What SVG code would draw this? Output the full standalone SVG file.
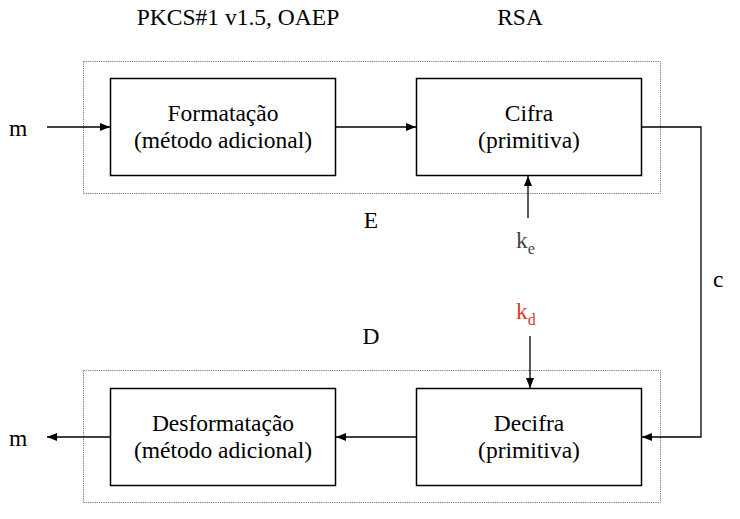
<svg xmlns="http://www.w3.org/2000/svg" width="740" height="519" viewBox="0 0 740 519">
<style>
text{font-family:'Liberation Serif','Times New Roman',Tinos,'DejaVu Serif',serif;font-size:23.5px;fill:#000}
.c{text-anchor:middle}
.box{fill:#fff;stroke:#000;stroke-width:1.5}
.dot{fill:none;stroke:#777;stroke-width:1;stroke-dasharray:1.2,1}
.ln{fill:none;stroke:#000;stroke-width:1.3}
</style>
<defs>
<marker id="ah" viewBox="0 0 10 8" refX="10" refY="4" markerWidth="10" markerHeight="8" markerUnits="userSpaceOnUse" orient="auto">
<path d="M0,0 L10,4 L0,8 Z" fill="#000"/>
</marker>
</defs>
<rect width="740" height="519" fill="#fff"/>
<g font-family="'Liberation Serif','Times New Roman',Tinos,'DejaVu Serif',serif">
<text class="c" x="238" y="25">PKCS#1 v1.5, OAEP</text>
<text class="c" x="520" y="25">RSA</text>
<g id="E-group">
<rect class="dot" x="83.5" y="61.5" width="577" height="132"/>
<text class="c" x="371" y="228">E</text>
</g>
<g id="D-group">
<rect class="dot" x="83.5" y="370.5" width="577" height="132"/>
<text class="c" x="371" y="344">D</text>
</g>
<g id="formatacao">
<rect class="box" x="110.5" y="78.5" width="225" height="97"/>
<text class="c" x="223" y="121">Formatação</text>
<text class="c" x="223" y="148">(método adicional)</text>
</g>
<g id="cifra">
<rect class="box" x="416.5" y="78.5" width="225" height="97"/>
<text class="c" x="529" y="121">Cifra</text>
<text class="c" x="529" y="148">(primitiva)</text>
</g>
<g id="decifra">
<rect class="box" x="416.5" y="388.5" width="225" height="97"/>
<text class="c" x="529" y="431">Decifra</text>
<text class="c" x="529" y="458">(primitiva)</text>
</g>
<g id="desformatacao">
<rect class="box" x="110.5" y="388.5" width="225" height="97"/>
<text class="c" x="223" y="431">Desformatação</text>
<text class="c" x="223" y="458">(método adicional)</text>
</g>
<g id="labels">
<text x="9" y="136">m</text>
<text x="9" y="446">m</text>
<text x="713" y="287">c</text>
<text x="516" y="248" style="fill:#3f4650">k<tspan font-size="16" dy="6">e</tspan></text>
<text x="516" y="319" style="fill:#d9401f">k<tspan font-size="16" dy="6">d</tspan></text>
</g>
</g>
<g id="connectors">
<line class="ln" x1="47" y1="127" x2="110" y2="127" marker-end="url(#ah)"/>
<line class="ln" x1="336" y1="127" x2="416" y2="127" marker-end="url(#ah)"/>
<polyline class="ln" points="642,127 701,127 701,437 642,437" marker-end="url(#ah)"/>
<line class="ln" x1="528" y1="218" x2="528" y2="176" marker-end="url(#ah)"/>
<line class="ln" x1="530" y1="336" x2="530" y2="388" marker-end="url(#ah)"/>
<line class="ln" x1="416" y1="437" x2="336" y2="437" marker-end="url(#ah)"/>
<line class="ln" x1="110" y1="437" x2="47" y2="437" marker-end="url(#ah)"/>
</g>
</svg>
